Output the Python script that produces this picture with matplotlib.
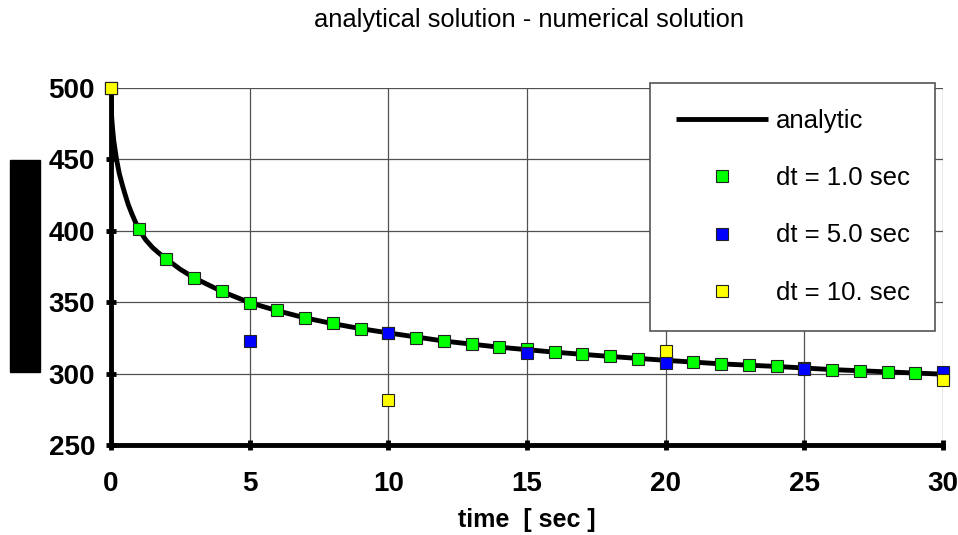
import matplotlib.pyplot as plt
from matplotlib.patches import Rectangle

plt.rcParams['font.family'] = ['Liberation Sans', 'DejaVu Sans']

# analytic curve
t_analytic = [0, 0.01, 0.02, 0.05, 0.1, 0.2, 0.3, 0.41, 0.5, 0.62, 0.75, 0.87,
              1, 1.25, 1.5, 1.75, 2, 2.5, 3, 4, 5, 6, 7, 8, 9, 10, 12, 14, 16,
              18, 20, 22, 24, 26, 28, 30]
v_analytic = [500, 486, 481, 473, 463, 450, 440, 432, 426, 418.5, 412, 406.6,
              401.2, 393.7, 388.2, 384, 380.2, 373, 367, 357.5, 349.7, 344, 339,
              335, 331.5, 328.5, 322.8, 318.5, 315, 312, 309.3, 306.8, 305,
              302.8, 301.2, 299.6]

# dt = 1.0 sec
t_dt1 = list(range(0, 31))
v_dt1 = [500, 401, 380.3, 367, 358, 349.7, 344.3, 339, 335.2, 331.5, 328.5,
         325.2, 322.8, 320.7, 318.6, 317.2, 315, 313.6, 312, 310.5, 309.3,
         308.2, 306.8, 305.9, 305.0, 304.0, 302.8, 302.0, 301.3, 300.5, 299.8]

# dt = 5.0 sec
t_dt5 = [0, 5, 10, 15, 20, 25, 30]
v_dt5 = [500, 322.8, 328.7, 314.4, 307.7, 303.1, 301]

# dt = 10. sec
t_dt10 = [0, 10, 20, 30]
v_dt10 = [500, 281.8, 315.9, 295.4]

fig = plt.figure(figsize=(9.58, 5.35), dpi=100)
ax = fig.add_axes([111 / 958, 1 - 445 / 535, 832 / 958, 357 / 535])

ax.plot(t_analytic, v_analytic, color='black', lw=3.5, label='analytic',
        zorder=3, solid_capstyle='butt', solid_joinstyle='round')
mk = dict(ls='none', marker='s', ms=8, mec='#222222', mew=0.8, clip_on=False)
ax.plot(t_dt1, v_dt1, mfc='#00ff00', label='dt = 1.0 sec', zorder=4, **mk)
ax.plot(t_dt5, v_dt5, mfc='#0000ff', label='dt = 5.0 sec', zorder=5, **mk)
ax.plot(t_dt10, v_dt10, mfc='#ffff00', label='dt = 10. sec', zorder=6, **mk)

ax.set_xlim(0, 30)
ax.set_ylim(250, 500)
ax.set_xticks(range(0, 31, 5))
ax.set_yticks(range(250, 501, 50))
ax.grid(True, color='#505050', lw=0.9)
ax.set_axisbelow(True)
for s in ('top', 'right'):
    ax.spines[s].set_visible(False)
for s in ('left', 'bottom'):
    ax.spines[s].set_linewidth(3.5)
    ax.spines[s].set_capstyle('round')
ax.tick_params(direction='inout', length=7, width=3.5, labelsize=20)
ax.tick_params(axis='x', pad=15)
ax.tick_params(axis='y', pad=8)
for lab in ax.get_xticklabels() + ax.get_yticklabels():
    lab.set_fontweight('bold')

ax.set_xlabel('time  [ sec ]', fontsize=18, fontweight='bold', labelpad=8)
fig.text(529 / 958, 1 - 20 / 535, 'analytical solution - numerical solution',
         fontsize=18.4, ha='center', va='center')

leg = ax.legend(loc='upper left', bbox_to_anchor=(650 / 958, 1 - 83 / 535),
                bbox_transform=fig.transFigure, fontsize=18.5, frameon=True,
                fancybox=False, edgecolor='#555555', framealpha=1,
                handlelength=3.6, labelspacing=1.3, borderpad=1.0,
                handletextpad=0.3, borderaxespad=0)
leg.get_frame().set_linewidth(1.2)
leg.set_zorder(10)

# black block left of the y axis
fig.patches.append(Rectangle((10 / 958, 1 - 372 / 535), 30 / 958, 212 / 535,
                             transform=fig.transFigure, color='black'))

plt.savefig('out.png', dpi=100)
